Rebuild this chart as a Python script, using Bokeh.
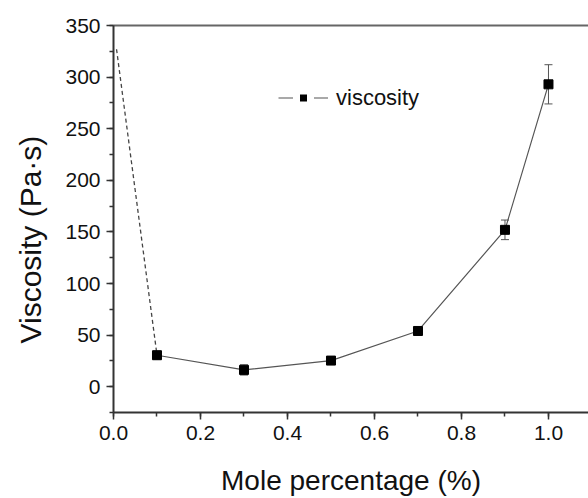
from bokeh.plotting import figure
from bokeh.models import (LinearAxis, SingleIntervalTicker, FixedTicker, NumeralTickFormatter,
                          Range1d, Whisker, ColumnDataSource, Legend, LegendItem, Title)
from bokeh.embed import file_html
from bokeh.resources import INLINE

# Measured viscosity vs mole percentage
mole_pct = [0.1, 0.3, 0.5, 0.7, 0.9, 1.0]
viscosity = [30.5, 16.3, 25.3, 54.0, 152.0, 293.0]
viscosity_err = [4.0, 5.0, 2.0, 4.0, 9.5, 19.0]

# Extrapolated trend toward zero (dashed)
trend_x = [0.007, 0.1]
trend_y = [327.0, 30.5]

FONT = "Liberation Sans"

p = figure(width=588, height=498, output_backend="svg", toolbar_location=None,
           x_range=Range1d(0.0, 1.092), y_range=Range1d(-25, 350),
           min_border_left=113, min_border_right=0, min_border_top=25, min_border_bottom=84,
           background_fill_color="white", border_fill_color="white")
p.outline_line_color = None
p.grid.visible = False

# Off-frame range used only by the legend key renderers
p.extra_y_ranges = {"key": Range1d(5000, 6000)}

src = ColumnDataSource(dict(x=mole_pct, y=viscosity,
                            lo=[v - e for v, e in zip(viscosity, viscosity_err)],
                            hi=[v + e for v, e in zip(viscosity, viscosity_err)]))

p.line(trend_x, trend_y, line_color="#444444", line_width=1.3, line_dash="4 3")

whisk = Whisker(source=src, base="x", lower="lo", upper="hi",
                line_color="#555555", line_width=1)
whisk.upper_head.size = 8
whisk.lower_head.size = 8
whisk.upper_head.line_color = "#555555"
whisk.lower_head.line_color = "#555555"
p.add_layout(whisk)

p.line("x", "y", source=src, line_color="#555555", line_width=1.2)
p.scatter("x", "y", source=src, marker="square", size=9,
          fill_color="black", line_color="black")

# Legend key: line with a gap around the square marker
key_line = p.line("x", "y", source=src, y_range_name="key",
                  line_color="#555555", line_width=1.2)
key_mark = p.scatter("x", "y", source=src, y_range_name="key", marker="square", size=14,
                     fill_color="black", line_color="white", line_width=7)

legend = Legend(items=[LegendItem(label="viscosity", renderers=[key_line, key_mark])],
                location=(165, 297), orientation="vertical",
                glyph_width=50, glyph_height=35, label_height=35,
                label_standoff=8, padding=0, margin=0, spacing=0,
                border_line_color=None, background_fill_alpha=0,
                label_text_font=FONT, label_text_font_size="22px",
                label_text_color="#111111")
p.add_layout(legend)

# Axes
for ax in (p.xaxis[0], p.yaxis[0]):
    ax.axis_line_color = "#333333"
    ax.axis_line_width = 2
    ax.major_tick_line_color = "#333333"
    ax.minor_tick_line_color = "#333333"
    ax.major_tick_line_width = 1.5
    ax.minor_tick_line_width = 1.5
    ax.major_tick_in = 0
    ax.major_tick_out = 7
    ax.minor_tick_in = 0
    ax.minor_tick_out = 4
    ax.major_label_text_font = FONT
    ax.major_label_text_font_size = "21px"
    ax.major_label_text_color = "#111111"
    ax.major_label_standoff = 6
    ax.axis_label_text_font = FONT
    ax.axis_label_text_font_style = "normal"
    ax.axis_label_text_color = "#111111"

p.xaxis[0].ticker = SingleIntervalTicker(interval=0.2, num_minor_ticks=2)
p.xaxis[0].formatter = NumeralTickFormatter(format="0.0")
p.xaxis[0].axis_label = "Mole percentage (%)"
p.xaxis[0].axis_label_text_font_size = "28px"
p.xaxis[0].axis_label_standoff = 22

p.yaxis[0].ticker = SingleIntervalTicker(interval=50, num_minor_ticks=2)

# Y title as a side title, anchored from the bottom so it sits a little low
ytitle = Title(text="Viscosity (Pa·s)", align="left", vertical_align="top",
               offset=69, standoff=27,
               text_font=FONT, text_font_size="30px", text_font_style="normal",
               text_color="#111111")
p.add_layout(ytitle, "left")

# Plain top border line
top = LinearAxis(ticker=FixedTicker(ticks=[]), axis_line_color="#666666", axis_line_width=2,
                 major_tick_out=0, major_tick_in=0, minor_tick_out=0, minor_tick_in=0,
                 major_label_standoff=0, axis_label_standoff=0)
p.add_layout(top, "above")

open("out.html", "w").write(file_html(p, INLINE))
